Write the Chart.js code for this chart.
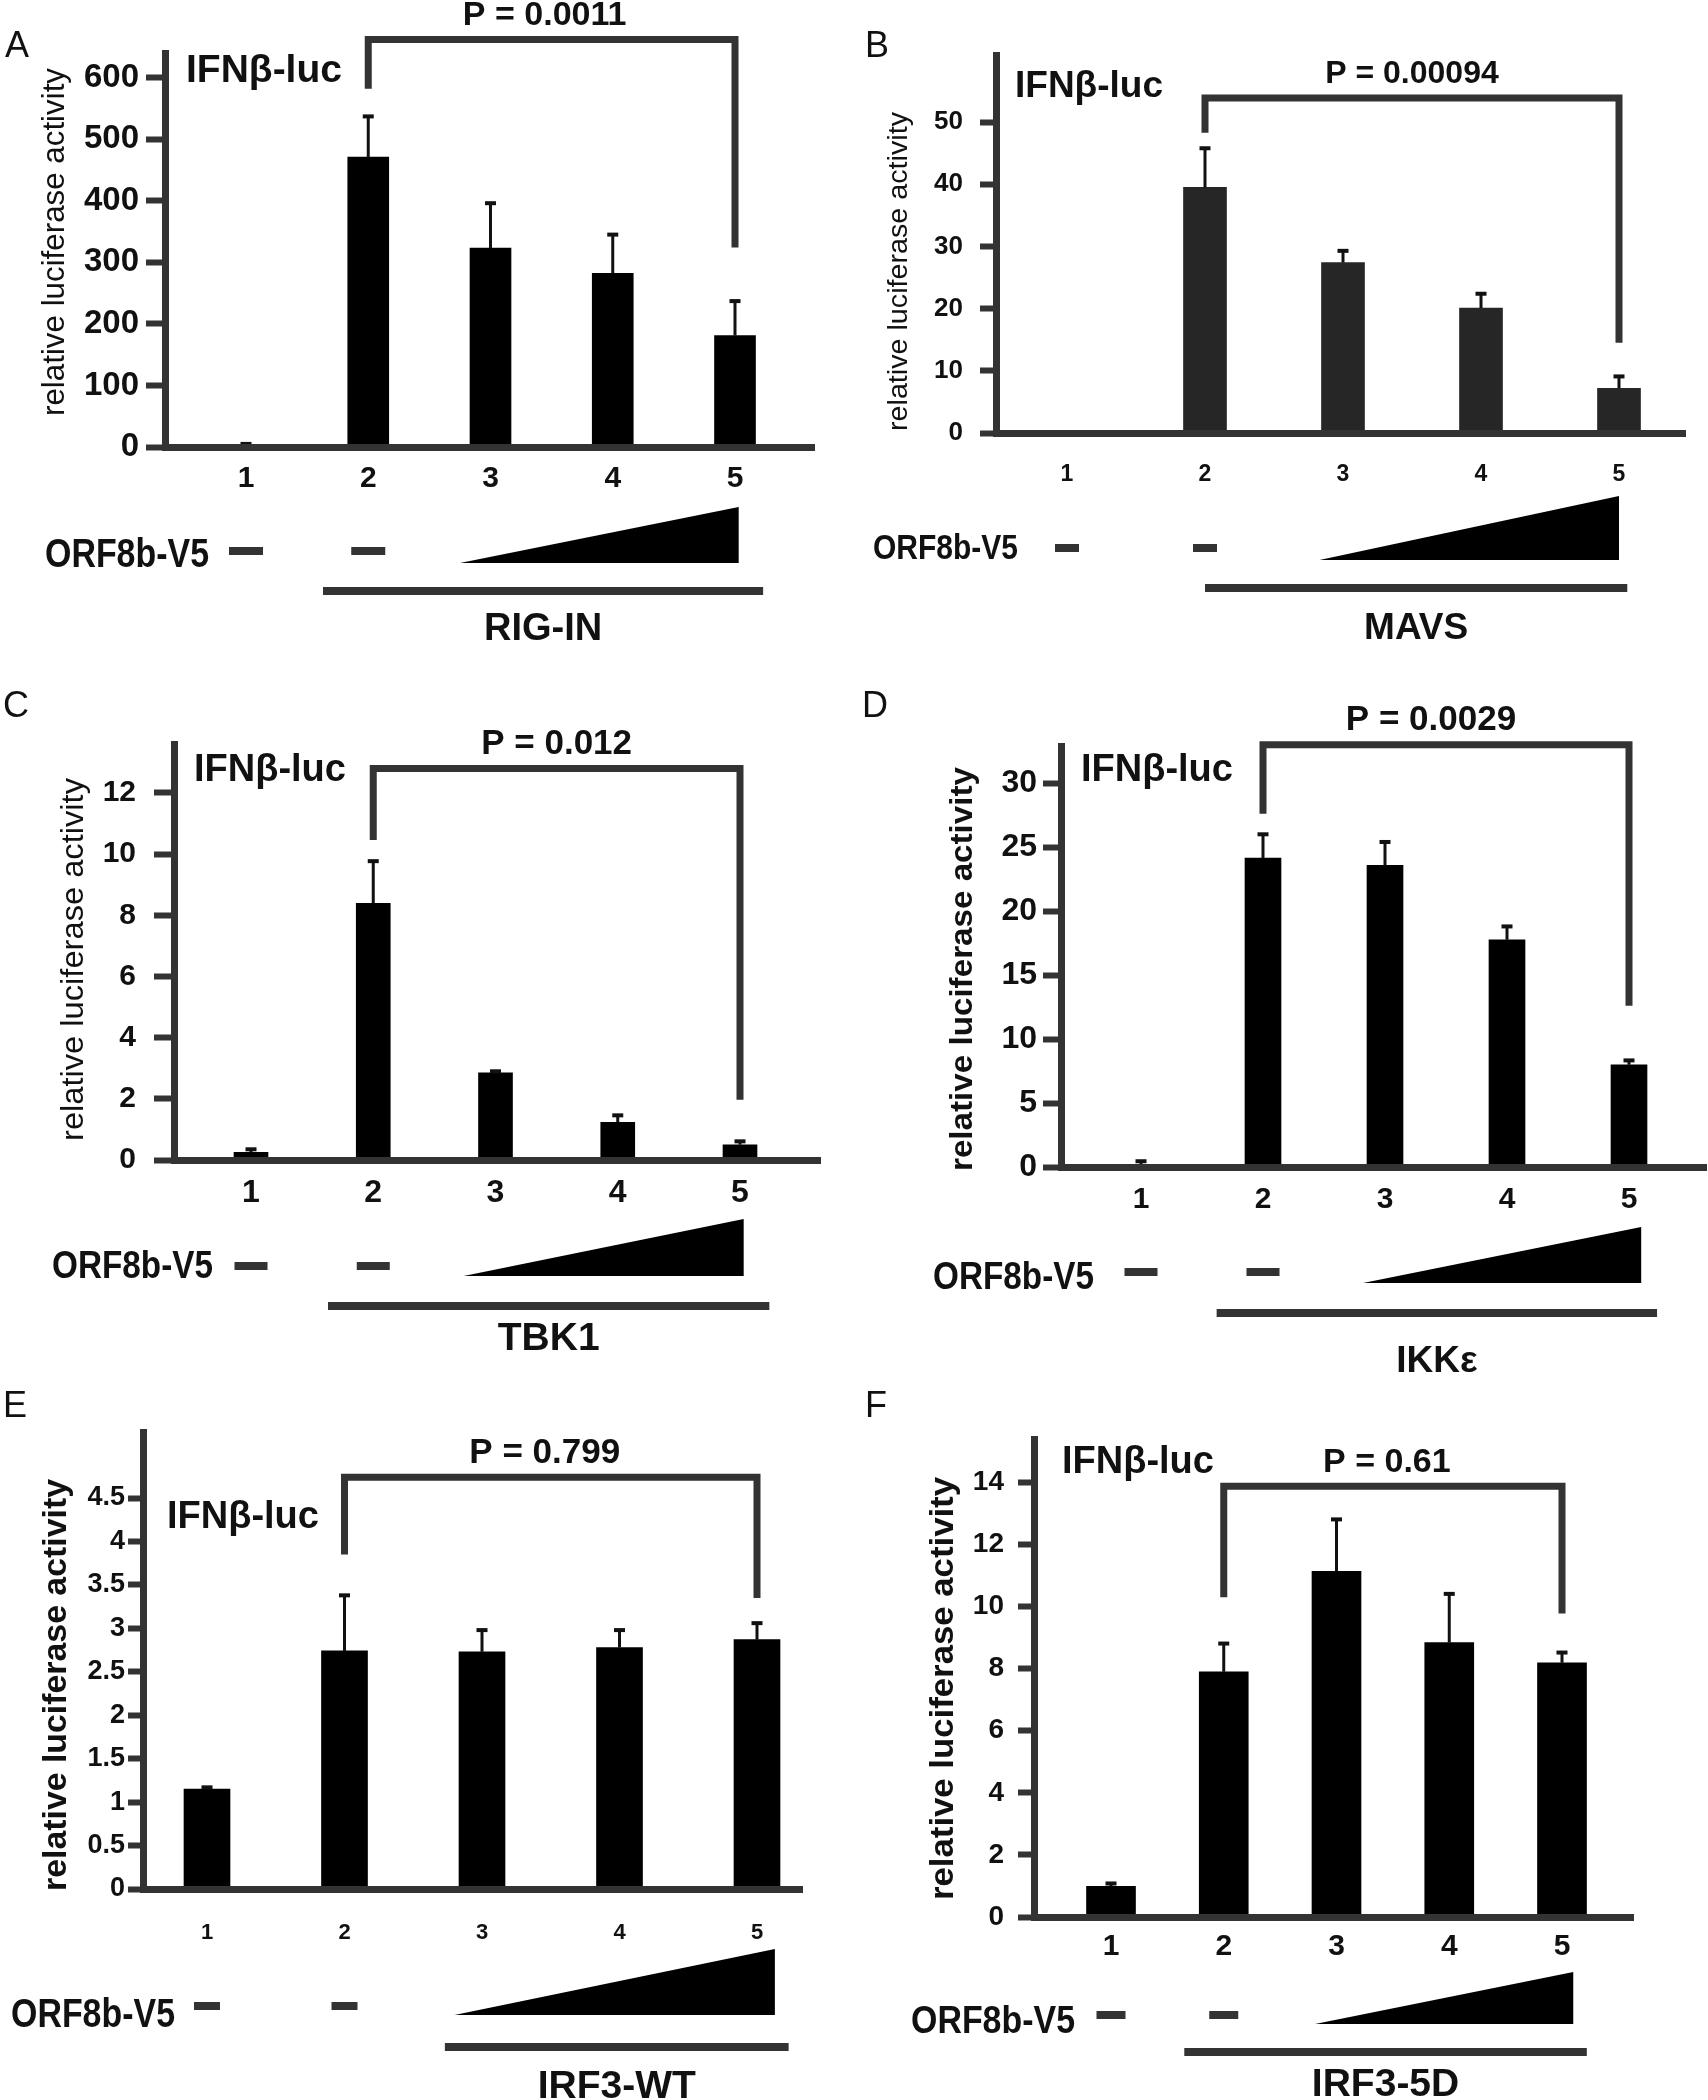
<!DOCTYPE html>
<html>
<head>
<meta charset="utf-8">
<title>ORF8b-V5 and IFNβ-luc reporter</title>
<script src="https://cdn.jsdelivr.net/npm/chart.js@4.4.0/dist/chart.umd.min.js"></script>
<style>
  html, body { margin: 0; padding: 0; background: #fff; }
  #page { position: relative; width: 1708px; height: 2100px; overflow: hidden; }
  #page canvas { position: absolute; }
</style>
</head>
<body>
<div id="page"></div>
<script>
// lanes on every panel
const lanes = ['1', '2', '3', '4', '5'];

// A - RIG-IN
const ticksA = [0, 100, 200, 300, 400, 500, 600];
const tickTextA = ['0', '100', '200', '300', '400', '500', '600'];
const meanA = [2, 471, 323, 282, 181];
const sdA = [3, 66, 73, 63, 56];

// B - MAVS
const ticksB = [0, 10, 20, 30, 40, 50];
const tickTextB = ['0', '10', '20', '30', '40', '50'];
const meanB = [0, 39.5, 27.4, 20.1, 7.2];
const sdB = [0, 6.3, 1.9, 2.3, 1.9];

// C - TBK1
const ticksC = [0, 2, 4, 6, 8, 10, 12];
const tickTextC = ['0', '2', '4', '6', '8', '10', '12'];
const meanC = [0.25, 8.39, 2.85, 1.23, 0.5];
const sdC = [0.1, 1.38, 0.05, 0.23, 0.11];

// D - IKKe
const ticksD = [0, 5, 10, 15, 20, 25, 30];
const tickTextD = ['0', '5', '10', '15', '20', '25', '30'];
const meanD = [0.2, 24.15, 23.57, 17.76, 7.99];
const sdD = [0.25, 1.85, 1.83, 1.04, 0.34];

// E - IRF3-WT
const ticksE = [0, 0.5, 1, 1.5, 2, 2.5, 3, 3.5, 4, 4.5];
const tickTextE = ['0', '0.5', '1', '1.5', '2', '2.5', '3', '3.5', '4', '4.5'];
const meanE = [1.15, 2.74, 2.73, 2.78, 2.87];
const sdE = [0.02, 0.64, 0.25, 0.2, 0.19];

// F - IRF3-5D
const ticksF = [0, 2, 4, 6, 8, 10, 12, 14];
const tickTextF = ['0', '2', '4', '6', '8', '10', '12', '14'];
const meanF = [0.99, 7.9, 11.14, 8.84, 8.19];
const sdF = [0.09, 0.91, 1.67, 1.57, 0.33];

const letters = ['A', 'B', 'C', 'D', 'E', 'F'];
const pValues = ['P = 0.0011', 'P = 0.00094', 'P = 0.012', 'P = 0.0029', 'P = 0.799', 'P = 0.61'];
const groups = ['RIG-IN', 'MAVS', 'TBK1', 'IKKε', 'IRF3-WT', 'IRF3-5D'];
const yTitle = 'relative luciferase activity';
const reporter = 'IFNβ-luc';
const construct = 'ORF8b-V5';

const panelData = [
  { mean: meanA, sd: sdA, ticks: ticksA, tickText: tickTextA },
  { mean: meanB, sd: sdB, ticks: ticksB, tickText: tickTextB },
  { mean: meanC, sd: sdC, ticks: ticksC, tickText: tickTextC },
  { mean: meanD, sd: sdD, ticks: ticksD, tickText: tickTextD },
  { mean: meanE, sd: sdE, ticks: ticksE, tickText: tickTextE },
  { mean: meanF, sd: sdF, ticks: ticksF, tickText: tickTextF }
];

const FONT = '"Liberation Sans", Arial, Helvetica, sans-serif';
const INK = '#111';
const AXIS = '#333';

// positions are local to each panel canvas
const layout = [
  { box: [0, 0, 854, 680], area: [165, 53, 814, 447], lane1: 246, lane5: 735, yMax: 640,
    barW: 41, barColor: '#000',
    yTick: { size: 33, len: 19, pad: 7 }, xTick: { size: 30, pad: 14 },
    letter: [5, 57], title: { cx: 55, y1: 68, y2: 416, size: 31, bold: false },
    rep: { x: 186, y: 71, size: 39 },
    bracket: { top: 662, left: 582, right: 324 }, p: { size: 34, dx: -7 },
    orf: { x: 45, y: 556, size: 40, w: 164 }, dash: { w: 34, y: 551 },
    wedge: { from: 2.75, to: 5.03, bottom: 563, top: 507 },
    line: { from: 1.63, to: 5.23, y: 591 }, group: { y: 630, size: 38 } },
  { box: [854, 0, 854, 680], area: [142, 55, 831, 433], lane1: 213, lane5: 765, yMax: 60.8,
    barW: 43, barColor: '#262626',
    yTick: { size: 26, len: 16, pad: 17 }, xTick: { size: 23, pad: 28 },
    letter: [11, 57], title: { cx: 46, y1: 112, y2: 431, size: 27, bold: false },
    rep: { x: 161, y: 87, size: 37 },
    bracket: { top: 53.9, left: 48.3, right: 14.5 }, p: { size: 32, dx: 0 },
    orf: { x: 19, y: 549, size: 35, w: 145 }, dash: { w: 24, y: 548 },
    wedge: { from: 2.83, to: 5.0, bottom: 560, top: 496 },
    line: { from: 2.0, to: 5.06, y: 588 }, group: { y: 629, size: 37 } },
  { box: [0, 680, 854, 700], area: [174, 64, 820, 480], lane1: 251, lane5: 740, yMax: 13.6,
    barW: 34, barColor: '#000',
    yTick: { size: 30, len: 20, pad: 18 }, xTick: { size: 32, pad: 14 },
    letter: [3, 37], title: { cx: 74, y1: 98, y2: 461, size: 32, bold: false },
    rep: { x: 194, y: 91, size: 38 },
    bracket: { top: 12.8, left: 10.46, right: 1.97 }, p: { size: 35, dx: 0 },
    orf: { x: 52, y: 587, size: 39, w: 161 }, dash: { w: 33, y: 586 },
    wedge: { from: 2.74, to: 5.03, bottom: 596, top: 539 },
    line: { from: 1.63, to: 5.24, y: 626 }, group: { y: 659, size: 39 } },
  { box: [854, 680, 854, 700], area: [207, 66, 852, 487], lane1: 287, lane5: 775, yMax: 32.9,
    barW: 36, barColor: '#000',
    yTick: { size: 32, len: 18, pad: 6 }, xTick: { size: 30, pad: 15 },
    letter: [8, 37], title: { cx: 109, y1: 87, y2: 491, size: 32, bold: true },
    rep: { x: 227, y: 91, size: 38 },
    bracket: { top: 33.0, left: 27.6, right: 12.6 }, p: { size: 35, dx: -15 },
    orf: { x: 79, y: 598, size: 39, w: 161 }, dash: { w: 33, y: 592 },
    wedge: { from: 2.82, to: 5.1, bottom: 603, top: 547 },
    line: { from: 1.62, to: 5.23, y: 633 }, group: { y: 682, size: 37 } },
  { box: [0, 1380, 854, 720], area: [143, 52, 802, 509], lane1: 207, lane5: 757, yMax: 5.26,
    barW: 46, barColor: '#000',
    yTick: { size: 27, len: 15, pad: 3 }, xTick: { size: 22, pad: 31 },
    letter: [3, 37], title: { cx: 57, y1: 99, y2: 511, size: 33, bold: true },
    rep: { x: 167, y: 138, size: 38 },
    bracket: { top: 4.74, left: 3.85, right: 3.35 }, p: { size: 35, dx: -6 },
    orf: { x: 11, y: 636, size: 41, w: 164 }, dash: { w: 26, y: 626 },
    wedge: { from: 2.8, to: 5.13, bottom: 635, top: 569 },
    line: { from: 2.73, to: 5.23, y: 667 }, group: { y: 707, size: 39 } },
  { box: [854, 1380, 854, 720], area: [180, 59, 779, 537], lane1: 257, lane5: 708, yMax: 15.4,
    barW: 49, barColor: '#000',
    yTick: { size: 28, len: 16, pad: 14 }, xTick: { size: 30, pad: 12 },
    letter: [11, 37], title: { cx: 90, y1: 97, y2: 520, size: 34, bold: true },
    rep: { x: 208, y: 83, size: 38 },
    bracket: { top: 13.88, left: 10.3, right: 9.78 }, p: { size: 34, dx: -6 },
    orf: { x: 57, y: 643, size: 38, w: 164 }, dash: { w: 29, y: 635 },
    wedge: { from: 2.81, to: 5.1, bottom: 644, top: 592 },
    line: { from: 1.65, to: 5.22, y: 672 }, group: { y: 705, size: 39 } }
];

const deco = {
  id: 'deco',
  afterDatasetsDraw(chart, args, opts) {
    const i = opts.index, d = panelData[i];
    const ctx = chart.ctx, xs = chart.scales.x, ys = chart.scales.y;
    ctx.save();
    ctx.strokeStyle = INK;
    ctx.fillStyle = INK;
    ctx.lineWidth = 3;
    d.mean.forEach((m, k) => {
      if (!d.sd[k]) return;
      const x = xs.getPixelForValue(k + 1);
      const y0 = ys.getPixelForValue(m);
      const y1 = ys.getPixelForValue(m + d.sd[k]);
      ctx.beginPath();
      ctx.moveTo(x, y0);
      ctx.lineTo(x, y1);
      ctx.stroke();
      ctx.fillRect(x - 5.5, y1 - 2, 11, 4);
    });
    ctx.restore();
  },
  afterDraw(chart, args, opts) {
    const i = opts.index, L = layout[i];
    const ctx = chart.ctx, xs = chart.scales.x, ys = chart.scales.y;
    ctx.save();
    ctx.fillStyle = INK;

    // panel letter
    ctx.font = '36px ' + FONT;
    ctx.textBaseline = 'alphabetic';
    ctx.textAlign = 'left';
    ctx.fillText(letters[i], L.letter[0], L.letter[1]);

    // y axis title, stretched along its run to the measured span
    const t = L.title;
    ctx.save();
    ctx.font = (t.bold ? 'bold ' : '') + t.size + 'px ' + FONT;
    const tw = ctx.measureText(yTitle).width;
    ctx.translate(t.cx, t.y2);
    ctx.rotate(-Math.PI / 2);
    ctx.scale((t.y2 - t.y1) / tw, 1);
    ctx.textBaseline = 'middle';
    ctx.fillText(yTitle, 0, 0);
    ctx.restore();

    // reporter label
    ctx.font = 'bold ' + L.rep.size + 'px ' + FONT;
    ctx.textBaseline = 'middle';
    ctx.fillText(reporter, L.rep.x, L.rep.y);

    // significance bracket lane 2 -> lane 5
    const x2 = xs.getPixelForValue(2), x5 = xs.getPixelForValue(5);
    const yTop = ys.getPixelForValue(L.bracket.top);
    ctx.strokeStyle = AXIS;
    ctx.lineWidth = 7;
    ctx.lineJoin = 'miter';
    ctx.beginPath();
    ctx.moveTo(x2, ys.getPixelForValue(L.bracket.left));
    ctx.lineTo(x2, yTop);
    ctx.lineTo(x5, yTop);
    ctx.lineTo(x5, ys.getPixelForValue(L.bracket.right));
    ctx.stroke();
    ctx.font = 'bold ' + L.p.size + 'px ' + FONT;
    ctx.textAlign = 'center';
    ctx.fillText(pValues[i], (x2 + x5) / 2 + L.p.dx, yTop - 24);

    // ORF8b-V5 row
    ctx.textAlign = 'left';
    ctx.font = 'bold ' + L.orf.size + 'px ' + FONT;
    const ow = ctx.measureText(construct).width;
    ctx.save();
    ctx.translate(L.orf.x, L.orf.y);
    ctx.scale(L.orf.w / ow, 1);
    ctx.fillText(construct, 0, 0);
    ctx.restore();
    ctx.fillStyle = AXIS;
    [1, 2].forEach(lane => {
      const x = xs.getPixelForValue(lane);
      ctx.fillRect(x - L.dash.w / 2, L.dash.y - 4, L.dash.w, 8);
    });
    ctx.fillStyle = '#000';
    const wx0 = xs.getPixelForValue(L.wedge.from), wx1 = xs.getPixelForValue(L.wedge.to);
    ctx.beginPath();
    ctx.moveTo(wx0, L.wedge.bottom);
    ctx.lineTo(wx1, L.wedge.top);
    ctx.lineTo(wx1, L.wedge.bottom);
    ctx.closePath();
    ctx.fill();

    // co-transfected construct
    const lx0 = xs.getPixelForValue(L.line.from), lx1 = xs.getPixelForValue(L.line.to);
    ctx.fillStyle = AXIS;
    ctx.fillRect(lx0, L.line.y - 4, lx1 - lx0, 8);
    ctx.fillStyle = INK;
    ctx.font = 'bold ' + L.group.size + 'px ' + FONT;
    ctx.textAlign = 'center';
    ctx.fillText(groups[i], (lx0 + lx1) / 2, L.group.y);
    ctx.restore();
  }
};

const page = document.getElementById('page');

layout.forEach((L, i) => {
  const d = panelData[i];
  const [bx, by, bw, bh] = L.box;
  const [left, top, right, zero] = L.area;
  const canvas = document.createElement('canvas');
  canvas.width = bw;
  canvas.height = bh;
  canvas.style.left = bx + 'px';
  canvas.style.top = by + 'px';
  page.appendChild(canvas);

  const step = (L.lane5 - L.lane1) / 4;
  const xMin = 1 - (L.lane1 - left) / step;
  const xMax = 5 + (right - L.lane5) / step;

  new Chart(canvas, {
    type: 'bar',
    data: {
      datasets: [{
        data: d.mean.map((v, k) => ({ x: k + 1, y: v })),
        backgroundColor: L.barColor,
        borderWidth: 0,
        barThickness: L.barW
      }]
    },
    options: {
      responsive: false,
      animation: false,
      devicePixelRatio: 1,
      layout: { padding: { left: 0, top: top, right: bw - right, bottom: 0 } },
      plugins: {
        legend: { display: false },
        tooltip: { enabled: false },
        deco: { index: i }
      },
      scales: {
        x: {
          type: 'linear',
          min: xMin,
          max: xMax,
          offset: false,
          grid: { display: false, drawTicks: false, offset: false },
          border: { display: true, width: 7, color: AXIS, z: 1 },
          afterBuildTicks: ax => { ax.ticks = lanes.map((s, k) => ({ value: k + 1 })); },
          afterFit: ax => { ax.height = bh - zero; },
          ticks: {
            autoSkip: false,
            maxRotation: 0,
            padding: L.xTick.pad,
            color: INK,
            font: { family: FONT, size: L.xTick.size, weight: 'bold' },
            callback: (v, k) => lanes[k]
          }
        },
        y: {
          min: 0,
          max: L.yMax,
          grid: {
            display: true,
            drawOnChartArea: false,
            drawTicks: true,
            tickLength: L.yTick.len,
            tickWidth: 6,
            tickColor: AXIS
          },
          border: { display: true, width: 7, color: AXIS, z: 1 },
          afterBuildTicks: ax => { ax.ticks = d.ticks.map(v => ({ value: v })); },
          afterFit: ax => { ax.width = left; },
          ticks: {
            autoSkip: false,
            padding: L.yTick.pad,
            color: INK,
            font: { family: FONT, size: L.yTick.size, weight: 'bold' },
            callback: (v, k) => d.tickText[k]
          }
        }
      }
    },
    plugins: [deco]
  });
});
</script>
</body>
</html>
